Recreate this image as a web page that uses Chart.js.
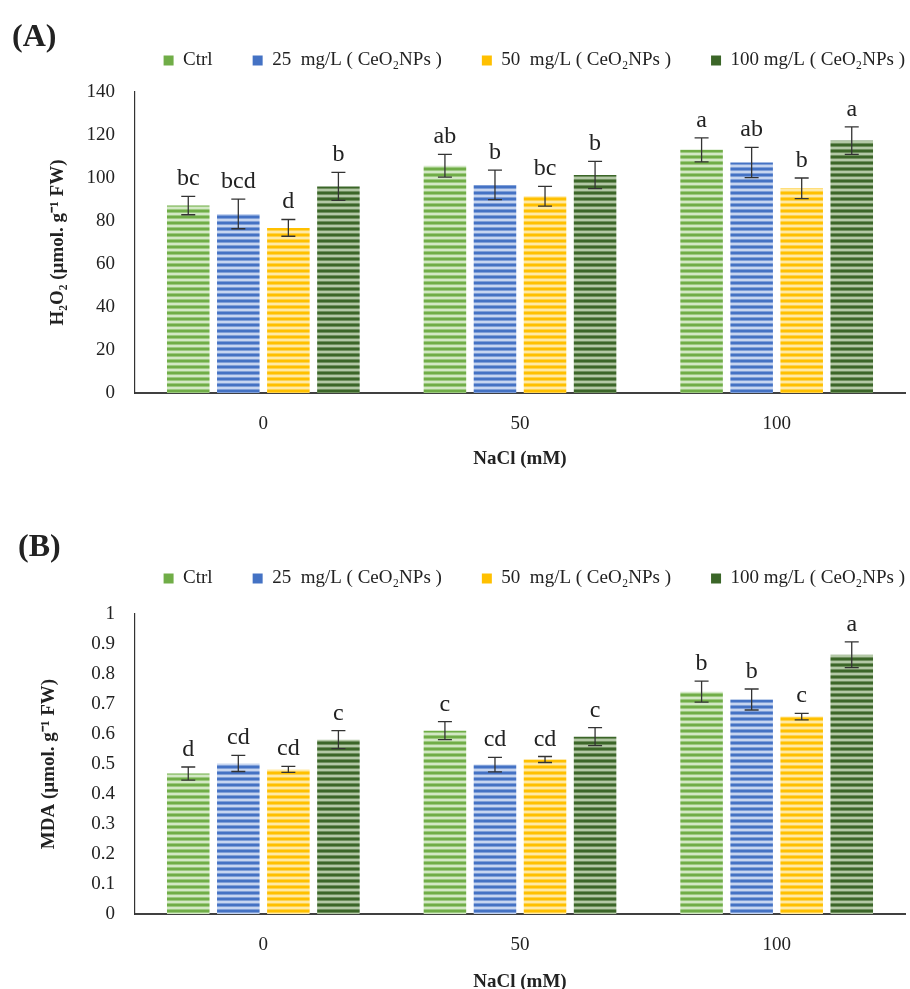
<!DOCTYPE html>
<html>
<head>
<meta charset="utf-8">
<script src="https://cdn.jsdelivr.net/npm/chart.js@4.4.0/dist/chart.umd.min.js"></script>
<style>
  html, body { margin: 0; padding: 0; background: #fff; overflow: hidden; }
  canvas { display: block; }
</style>
</head>
<body>
<canvas id="chartA" width="910" height="490"></canvas>
<canvas id="chartB" width="910" height="520"></canvas>
<script>
// NaCl levels (x categories)
const categories = ["0", "50", "100"];
const seriesNames = ["Ctrl", "25  mg/L ( CeO\u2082NPs )", "50  mg/L ( CeO\u2082NPs )", "100 mg/L ( CeO\u2082NPs )"];

// (A) H2O2
const h2o2Ctrl = [87.2, 105.7, 113.1];
const h2o2Ce25 = [83.3, 96.8, 107.2];
const h2o2Ce50 = [76.8, 91.5, 95.2];
const h2o2Ce100 = [96.1, 101.4, 117.4];
const h2o2ErrCtrl = [4.3, 5.3, 5.6];
const h2o2Err25 = [6.9, 6.9, 7.0];
const h2o2Err50 = [3.9, 4.6, 4.8];
const h2o2Err100 = [6.5, 6.3, 6.4];
const h2o2LetCtrl = ["bc", "ab", "a"];
const h2o2Let25 = ["bcd", "b", "ab"];
const h2o2Let50 = ["d", "bc", "b"];
const h2o2Let100 = ["b", "b", "a"];

// (B) MDA
const mdaCtrl = [0.468, 0.611, 0.741];
const mdaCe25 = [0.502, 0.498, 0.715];
const mdaCe50 = [0.482, 0.515, 0.658];
const mdaCe100 = [0.581, 0.591, 0.864];
const mdaErrCtrl = [0.022, 0.03, 0.035];
const mdaErr25 = [0.027, 0.024, 0.035];
const mdaErr50 = [0.01, 0.01, 0.011];
const mdaErr100 = [0.03, 0.03, 0.043];
const mdaLetCtrl = ["d", "c", "b"];
const mdaLet25 = ["cd", "cd", "b"];
const mdaLet50 = ["cd", "cd", "c"];
const mdaLet100 = ["c", "c", "a"];

const SERIF = "Liberation Serif";
const TEXT = "#222";

const palette = [
  { base: "#70ad47", mid: "#9cc97f", light: "#d3e8c5" },
  { base: "#4472c4", mid: "#7f9fd8", light: "#c6d5f0" },
  { base: "#ffc000", mid: "#ffd34d", light: "#ffeaa6" },
  { base: "#3b6628", mid: "#6f8f5e", light: "#b3c8a6" },
];

function stripes(ctx, c) {
  const off = document.createElement("canvas");
  off.width = 4;
  off.height = 6;
  const g = off.getContext("2d");
  const rows = [c.base, c.base, c.mid, c.light, c.light, c.mid];
  rows.forEach((col, i) => {
    g.fillStyle = col;
    g.fillRect(0, i, 4, 1);
  });
  return ctx.createPattern(off, "repeat");
}

// error bars + significance letters
const errorLetters = {
  id: "errorLetters",
  afterDatasetsDraw(chart) {
    const { ctx } = chart;
    const y = chart.scales.y;
    ctx.save();
    chart.data.datasets.forEach((ds, i) => {
      const meta = chart.getDatasetMeta(i);
      meta.data.forEach((bar, j) => {
        const v = ds.data[j];
        const e = ds.errors[j];
        const top = y.getPixelForValue(v + e);
        const bot = y.getPixelForValue(v - e);
        ctx.strokeStyle = "#333";
        ctx.lineWidth = 1.3;
        ctx.beginPath();
        ctx.moveTo(bar.x, top);
        ctx.lineTo(bar.x, bot);
        ctx.moveTo(bar.x - 7, top);
        ctx.lineTo(bar.x + 7, top);
        ctx.moveTo(bar.x - 7, bot);
        ctx.lineTo(bar.x + 7, bot);
        ctx.stroke();
        ctx.fillStyle = TEXT;
        ctx.font = "24px " + SERIF;
        ctx.textAlign = "center";
        ctx.textBaseline = "alphabetic";
        ctx.fillText(ds.letters[j], bar.x, top - 11);
      });
    });
    ctx.restore();
  },
};

const panelLabel = {
  id: "panelLabel",
  afterDraw(chart, args, opts) {
    const { ctx } = chart;
    ctx.save();
    ctx.font = "bold 32px " + SERIF;
    ctx.fillStyle = TEXT;
    ctx.textBaseline = "middle";
    ctx.fillText(opts.text, opts.x, opts.y);
    ctx.restore();
  },
};

// extra room under the legend, and push it a bit to the right
const legendGap = {
  id: "legendGap",
  beforeInit(chart) {
    const fit = chart.legend.fit;
    chart.legend.fit = function () {
      fit.bind(chart.legend)();
      this.height += chart.options.plugins.legendGap.extra;
    };
  },
  afterLayout(chart, args, opts) {
    chart.legend.left += opts.shift;
    chart.legend.right += opts.shift;
  },
};

function makeChart(id, cfg) {
  const ctx = document.getElementById(id).getContext("2d");
  const datasets = cfg.values.map((vals, i) => ({
    label: seriesNames[i],
    data: vals,
    errors: cfg.errors[i],
    letters: cfg.letters[i],
    backgroundColor: stripes(ctx, palette[i]),
    borderWidth: 0,
    barPercentage: 0.85,
    categoryPercentage: 0.78,
  }));

  return new Chart(ctx, {
    type: "bar",
    data: { labels: categories, datasets: datasets },
    plugins: [errorLetters, panelLabel, legendGap],
    options: {
      responsive: false,
      animation: false,
      layout: { padding: { top: cfg.padTop, right: 5, left: 0, bottom: 0 } },
      plugins: {
        tooltip: { enabled: false },
        panelLabel: { text: cfg.panel, x: cfg.panelX, y: cfg.panelY },
        legendGap: { extra: cfg.legendExtra, shift: 40 },
        legend: {
          position: "top",
          align: "end",
          labels: {
            boxWidth: 10,
            boxHeight: 10,
            padding: 40,
            color: TEXT,
            font: { family: SERIF, size: 19 },
            generateLabels(chart) {
              return chart.data.datasets.map((ds, i) => ({
                text: ds.label,
                fillStyle: palette[i].base,
                strokeStyle: palette[i].base,
                lineWidth: 0,
                fontColor: TEXT,
                datasetIndex: i,
              }));
            },
          },
        },
      },
      scales: {
        x: {
          offset: true,
          afterFit(scale) {
            scale.height = cfg.xHeight;
          },
          grid: { display: false, drawTicks: false },
          border: { display: true, color: "#404040", width: 2 },
          ticks: { color: TEXT, padding: 20, font: { family: SERIF, size: 19 } },
          title: {
            display: true,
            text: "NaCl (mM)",
            color: TEXT,
            font: { family: SERIF, size: 19, weight: "bold" },
            padding: { top: 0, bottom: cfg.xTitleBottom },
          },
        },
        y: {
          min: 0,
          max: cfg.max,
          afterFit(scale) {
            scale.width = 135;
          },
          grid: { display: false, drawTicks: false },
          border: { display: true, color: "#333", width: 1.2 },
          ticks: {
            stepSize: cfg.step,
            maxTicksLimit: 20,
            autoSkip: false,
            color: TEXT,
            padding: 20,
            font: { family: SERIF, size: 19 },
            callback: (v) => String(+v.toFixed(2)),
          },
          title: {
            display: true,
            text: cfg.yTitle,
            color: TEXT,
            font: { family: SERIF, size: 19, weight: "bold" },
            padding: { top: cfg.yTitlePad, bottom: 0 },
          },
        },
      },
    },
  });
}

makeChart("chartA", {
  panel: "(A)", panelX: 12, panelY: 38, padTop: 11, legendExtra: 12,
  values: [h2o2Ctrl, h2o2Ce25, h2o2Ce50, h2o2Ce100],
  errors: [h2o2ErrCtrl, h2o2Err25, h2o2Err50, h2o2Err100],
  letters: [h2o2LetCtrl, h2o2Let25, h2o2Let50, h2o2Let100],
  max: 140, step: 20,
  yTitle: "H\u2082O\u2082 (\u00b5mol. g\u207b\u00b9 FW)", yTitlePad: 47,
  xHeight: 97, xTitleBottom: 20,
});

makeChart("chartB", {
  panel: "(B)", panelX: 18, panelY: 58, padTop: 39, legendExtra: 16,
  values: [mdaCtrl, mdaCe25, mdaCe50, mdaCe100],
  errors: [mdaErrCtrl, mdaErr25, mdaErr50, mdaErr100],
  letters: [mdaLetCtrl, mdaLet25, mdaLet50, mdaLet100],
  max: 1, step: 0.1,
  yTitle: "MDA (\u00b5mol. g\u207b\u00b9 FW)", yTitlePad: 38,
  xHeight: 96, xTitleBottom: 17,
});
</script>
</body>
</html>
